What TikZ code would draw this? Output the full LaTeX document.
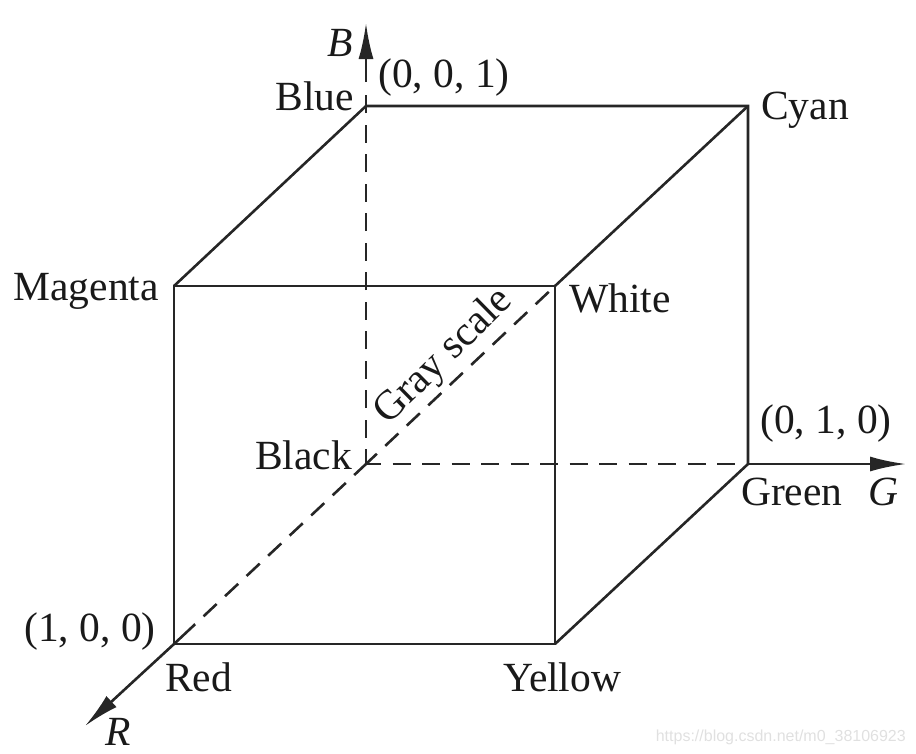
\documentclass[tikz,border=0pt]{standalone}
\usepackage{fontspec}
\setmainfont{Liberation Serif}
\newfontfamily\wmfont{Liberation Sans}
\usetikzlibrary{arrows.meta}
\tikzset{
  edge/.style={line width=2.6pt,draw=black!85},
  hidden/.style={line width=2.6pt,draw=black!85,dash pattern=on 18pt off 11.5pt,dash phase=3pt},
  hiddenred/.style={line width=2.6pt,draw=black!85,dash pattern=on 29pt off 11.5pt on 18pt off 11.5pt on 18pt off 11.5pt on 18pt off 11.5pt on 18pt off 11.5pt on 18pt off 11.5pt on 18pt off 11.5pt on 18pt off 11.5pt on 20pt off 20pt},
  axis/.style={line width=2.6pt,draw=black!85,-{Latex[length=36pt,width=15pt]}},
  lab/.style={font=\fontsize{41.5}{41.5}\selectfont,inner sep=0pt,text=black!90},
  axlab/.style={font=\fontsize{41.5}{41.5}\selectfont\itshape,inner sep=0pt,text=black!90},
  scalelab/.style={font=\fontsize{41.5}{41.5}\selectfont,inner sep=0pt,text=black!90,rotate=44.5,anchor=base},
  wm/.style={font=\fontsize{16}{16}\selectfont\wmfont,inner sep=0pt,text=black!12}
}
\begin{document}
\begin{tikzpicture}[x=1pt,y=-1pt]
\useasboundingbox (0,0) rectangle (916,753);
\coordinate (K) at (366,464);
\coordinate (B) at (366,106);
\coordinate (C) at (748,106);
\coordinate (G) at (748,464);
\coordinate (R) at (174,644);
\coordinate (M) at (174,286);
\coordinate (W) at (555,286);
\coordinate (Y) at (555,644);
\coordinate (Btip) at (366,23);
\coordinate (Bgap) at (366,82);
\coordinate (Bstub) at (366,95);
\coordinate (Gtip) at (906,464);
\coordinate (Rtip) at (85,726);
% solid edges
\draw[edge] (M) -- (W) -- (Y) -- (R) -- cycle;
\draw[edge] (M) -- (B) -- (C) -- (G) -- (Y);
\draw[edge] (W) -- (C);
% hidden edges
\draw[hidden] (K) -- (B);
\draw[hidden] (K) -- (G);
\draw[hiddenred] (R) -- (K);
\draw[hidden] (K) -- (W);
% axes
\draw[edge] (Bstub) -- (B);
\draw[axis] (Bgap) -- (Btip);
\draw[axis] (G) -- (Gtip);
\draw[axis] (R) -- (Rtip);
% labels
\node[axlab] (lb) at (340,43) {B};
\node[lab] (l001) at (444,78) {(0, 0, 1)};
\node[lab,anchor=base east] (lblue) at (354,110) {Blue};
\node[lab,anchor=base west] (lcyan) at (761,119) {Cyan};
\node[lab,anchor=base east] (lmag) at (159,300) {Magenta};
\node[lab,anchor=base west] (lwhite) at (569,312) {White};
\node[scalelab] (lgray) at (451,364) {Gray scale};
\node[lab,anchor=base east] (lblack) at (352,469) {Black};
\node[lab] (l010) at (826,424) {(0, 1, 0)};
\node[lab,anchor=base west] (lgreen) at (741,505) {Green};
\node[axlab] (lg) at (883,492) {G};
\node[lab] (l100) at (90,632) {(1, 0, 0)};
\node[lab,anchor=base west] (lred) at (165,691) {Red};
\node[lab,anchor=base west] (lyellow) at (503,691) {Yellow};
\node[axlab] (lr) at (118,731.5) {R};
\node[wm,anchor=base east] (lwm) at (906,741) {https://blog.csdn.net/m0\_38106923};
\end{tikzpicture}
\end{document}
